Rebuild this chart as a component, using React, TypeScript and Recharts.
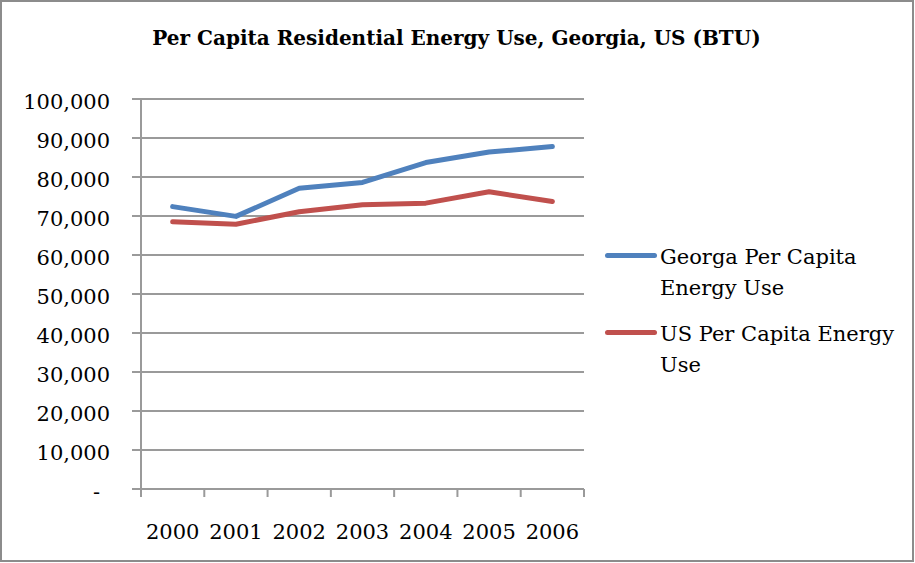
import { LineChart, Line, XAxis, YAxis, CartesianGrid } from "recharts";

const years = ["2000", "2001", "2002", "2003", "2004", "2005", "2006"];
const georgiaUse = [72400, 69900, 77100, 78600, 83700, 86400, 87800];
const usUse = [68500, 67900, 71100, 72900, 73300, 76200, 73700];
const seriesNames = ["Georga Per Capita Energy Use", "US Per Capita Energy Use"];
const seriesColors = ["#4F81BD", "#C0504D"];
const yTicks = [0, 10000, 20000, 30000, 40000, 50000, 60000, 70000, 80000, 90000, 100000];

const FONT = "'DejaVu Serif', serif";
const AXIS = "#9a9a9a";

const data = years.map((year, i) => ({
  idx: i,
  year,
  georgia: georgiaUse[i],
  us: usUse[i],
}));

// ticks on the category boundaries, labels on the centres
const xTicks: number[] = [];
for (let i = 0; i <= years.length * 2; i++) xTicks.push(i / 2 - 0.5);

const XTick = (props: any) => {
  const { x, y, payload } = props;
  const v = payload.value;
  if (Number.isInteger(v)) {
    return (
      <text x={x} y={y + 50} textAnchor="middle" fontFamily={FONT} fontSize={21} fill="#000">
        {years[v]}
      </text>
    );
  }
  return <line x1={x} x2={x} y1={y} y2={y + 8} stroke={AXIS} strokeWidth={2} />;
};

const YTick = (props: any) => {
  const { x, y, payload } = props;
  const v = payload.value;
  return (
    <g>
      <line x1={x - 9} x2={x} y1={y} y2={y} stroke={AXIS} strokeWidth={2} />
      <text
        x={v === 0 ? x - 41 : x - 31}
        y={y + 10}
        textAnchor="end"
        fontFamily={FONT}
        fontSize={21}
        fill="#000"
      >
        {v === 0 ? "-" : v.toLocaleString("en-US")}
      </text>
    </g>
  );
};

export default function App() {
  return (
    <div
      style={{
        position: "absolute",
        left: 0,
        top: 0,
        width: 915,
        height: 563,
        background: "#fff",
      }}
    >
      <div
        style={{
          position: "absolute",
          left: 0,
          top: 0,
          width: 914,
          height: 562,
          boxSizing: "border-box",
          border: "2px solid #8c8c8c",
        }}
      />
      <div
        style={{
          position: "absolute",
          left: 0,
          top: 24,
          width: 913,
          textAlign: "center",
          fontFamily: FONT,
          fontWeight: "bold",
          fontSize: 20,
          lineHeight: "28px",
        }}
      >
        Per Capita Residential Energy Use, Georgia, US (BTU)
      </div>

      <LineChart
        width={915}
        height={563}
        data={data}
        margin={{ top: 99, right: 331, left: 0, bottom: 0 }}
      >
        <CartesianGrid vertical={false} stroke={AXIS} strokeWidth={2} />
        <XAxis
          dataKey="idx"
          type="number"
          domain={[-0.5, years.length - 0.5]}
          ticks={xTicks}
          interval={0}
          height={74}
          tickSize={0}
          tickMargin={0}
          tickLine={false}
          axisLine={{ stroke: AXIS, strokeWidth: 2 }}
          tick={<XTick />}
        />
        <YAxis
          domain={[0, 100000]}
          ticks={yTicks}
          interval={0}
          width={141}
          tickSize={0}
          tickMargin={0}
          tickLine={false}
          axisLine={{ stroke: AXIS, strokeWidth: 2 }}
          tick={<YTick />}
        />
        <Line
          type="linear"
          dataKey="georgia"
          name={seriesNames[0]}
          stroke={seriesColors[0]}
          strokeWidth={5}
          strokeLinecap="round"
          strokeLinejoin="round"
          dot={false}
          isAnimationActive={false}
        />
        <Line
          type="linear"
          dataKey="us"
          name={seriesNames[1]}
          stroke={seriesColors[1]}
          strokeWidth={5}
          strokeLinecap="round"
          strokeLinejoin="round"
          dot={false}
          isAnimationActive={false}
        />
      </LineChart>

      {seriesNames.map((name, i) => (
        <div
          key={name}
          style={{
            position: "absolute",
            left: 605,
            top: i === 0 ? 242 : 319,
            fontFamily: FONT,
            fontSize: 21,
            lineHeight: "31px",
          }}
        >
          <div
            style={{
              position: "absolute",
              left: 0,
              top: 11,
              width: 52,
              height: 5,
              borderRadius: 3,
              background: seriesColors[i],
            }}
          />
          <div style={{ marginLeft: 55, width: 245 }}>{name}</div>
        </div>
      ))}
    </div>
  );
}
